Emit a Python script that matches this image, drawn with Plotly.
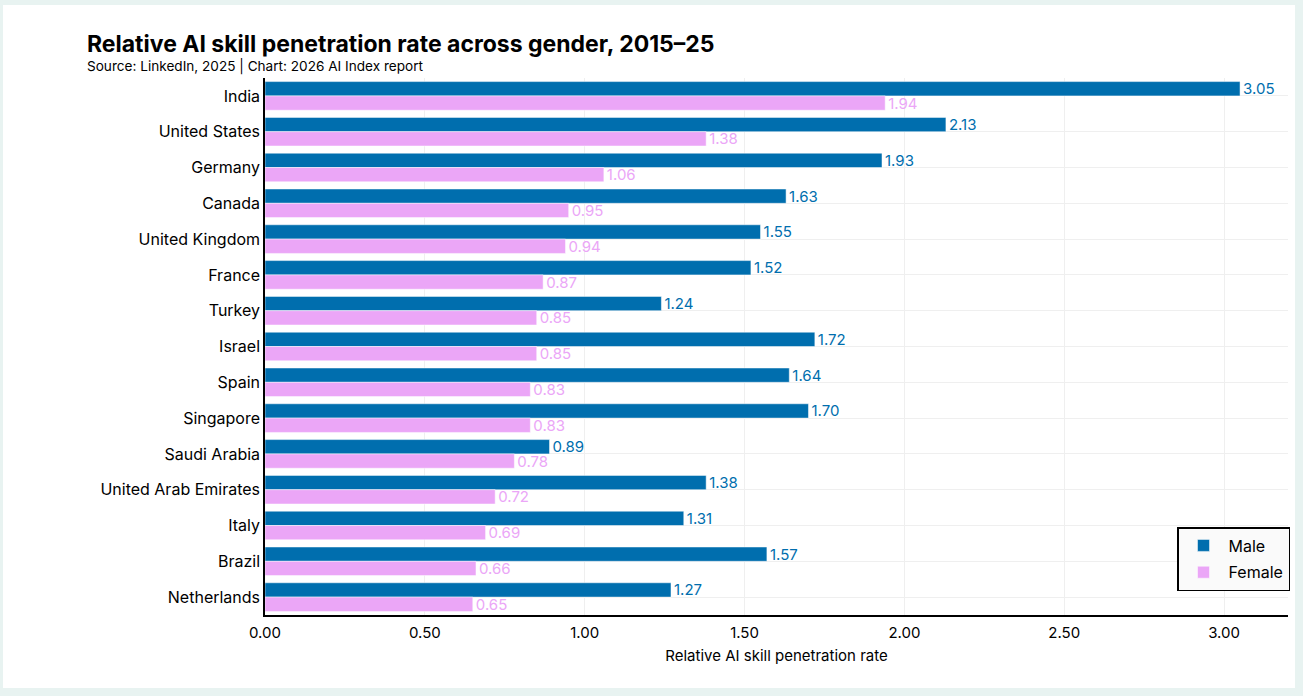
import plotly.graph_objects as go

countries = ["India", "United States", "Germany", "Canada", "United Kingdom", "France",
             "Turkey", "Israel", "Spain", "Singapore", "Saudi Arabia",
             "United Arab Emirates", "Italy", "Brazil", "Netherlands"]
male = [3.05, 2.13, 1.93, 1.63, 1.55, 1.52, 1.24, 1.72, 1.64, 1.70, 0.89, 1.38, 1.31, 1.57, 1.27]
female = [1.94, 1.38, 1.06, 0.95, 0.94, 0.87, 0.85, 0.85, 0.83, 0.83, 0.78, 0.72, 0.69, 0.66, 0.65]

MALE_C = "#006eae"
FEMALE_C = "#eba6f7"
FONT = "Inter"

W, H = 1303, 696
L, R, T, B = 265, 15, 78, 81
pw, ph = W - L - R, H - T - B

def px(x):
    return (x - L) / pw

def py(y):
    return (H - B - y) / ph

fig = go.Figure()
fig.add_trace(go.Bar(y=countries, x=male, orientation="h", name="Male", legendgroup="m",
                     marker=dict(color=MALE_C, line=dict(color="white", width=0.5)),
                     texttemplate="%{x:.2f}", textposition="outside", constraintext="none",
                     textfont=dict(color=MALE_C, size=15, family=FONT), cliponaxis=False))
fig.add_trace(go.Bar(y=countries, x=female, orientation="h", name="Female", legendgroup="f",
                     marker=dict(color=FEMALE_C, line=dict(color="white", width=0.5)),
                     texttemplate="%{x:.2f}", textposition="outside", constraintext="none",
                     textfont=dict(color=FEMALE_C, size=15, family=FONT), cliponaxis=False))

fig.update_layout(
    width=W, height=H,
    margin=dict(l=L, r=R, t=T, b=B),
    paper_bgcolor="#e8f3f1",
    plot_bgcolor="white",
    barmode="group", bargap=0.2, bargroupgap=0.0,
    font=dict(family=FONT, size=15, color="black"),
    showlegend=True,
    legend=dict(x=px(1177), y=py(527), xanchor="left", yanchor="top",
                bordercolor="black", borderwidth=1.5, bgcolor="#fafafa",
                font=dict(size=16, family=FONT), traceorder="grouped",
                itemwidth=40, tracegroupgap=3),
    shapes=[dict(type="rect", xref="paper", yref="paper", layer="below",
                 x0=px(3), x1=px(1295), y0=py(688), y1=py(5),
                 fillcolor="white", line=dict(width=0))],
    annotations=[
        dict(text="<b>Relative AI skill penetration rate across gender, 2015–25</b>",
             xref="paper", yref="paper", x=px(85), y=py(44), xanchor="left", yanchor="middle",
             showarrow=False, font=dict(size=23, family=FONT, color="black")),
        dict(text="Source: LinkedIn, 2025 | Chart: 2026 AI Index report",
             xref="paper", yref="paper", x=px(85), y=py(66), xanchor="left", yanchor="middle",
             showarrow=False, font=dict(size=13.6, family=FONT, color="black")),
    ],
)
fig.update_xaxes(range=[0, 3.2], dtick=0.5, tickformat=".2f", showgrid=True,
                 gridcolor="#efefef", showline=True, linecolor="black", linewidth=1.5,
                 zeroline=False, ticks="", tickfont=dict(size=15), ticklabelstandoff=3,
                 title=dict(text="Relative AI skill penetration rate", font=dict(size=15), standoff=10))
fig.update_yaxes(autorange="reversed", showgrid=True, gridcolor="#efefef",
                 showline=True, linecolor="black", linewidth=1.5, ticks="",
                 ticklabelstandoff=0, tickfont=dict(size=16))

fig.write_html("out.html")
